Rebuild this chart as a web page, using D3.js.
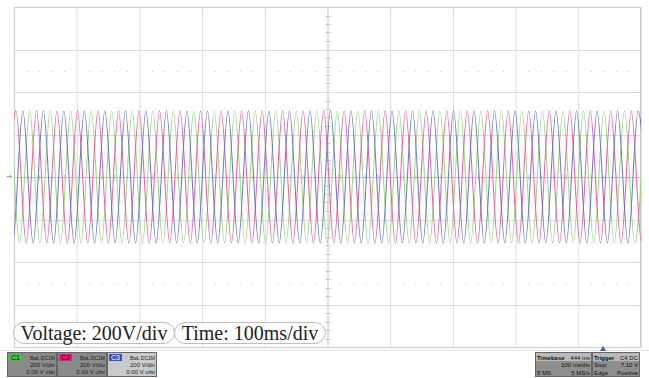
<!DOCTYPE html>
<html><head><meta charset="utf-8">
<script src="https://cdn.jsdelivr.net/npm/d3@7"></script>
<style>html,body{margin:0;padding:0;background:#fff;}svg{display:block;}</style>
</head><body>
<svg id="c" width="649" height="378"></svg>
<script>
// ---- data (time in ms across 10 divisions of 100 ms, volts at 200 V/div) ----
const timeTicks = [0,100,200,300,400,500,600,700,800,900,1000];
const voltTicks = [-800,-600,-400,-200,0,200,400,600,800];
const dotRows = [-500, 500];
const peakVolts = 311, troughVolts = -311;
// pink channel (C2)
const c2Peaks = [3.2,35.9,68.6,101.3,134.0,166.8,199.5,232.2,264.9,297.6,330.3,363.0,395.7,428.4,461.1,493.9,526.6,559.3,592.0,624.7,657.4,690.1,722.8,755.5,788.2,821.0,853.7,886.4,919.1,951.8,984.5,1017.2];
const c2Troughs = [-13.2,19.5,52.2,85.0,117.7,150.4,183.1,215.8,248.5,281.2,313.9,346.7,379.4,412.1,444.8,477.5,510.2,542.9,575.6,608.3,641.0,673.8,706.5,739.2,771.9,804.6,837.3,870.0,902.7,935.4,968.2,1000.9];
// blue channel (C3)
const c3Peaks = [-18.6,14.1,46.8,79.5,112.2,144.9,177.7,210.4,243.1,275.8,308.5,341.2,373.9,406.6,439.3,472.0,504.8,537.5,570.2,602.9,635.6,668.3,701.0,733.7,766.4,799.1,831.9,864.6,897.3,930.0,962.7,995.4];
const c3Troughs = [-2.2,30.5,63.2,95.9,128.6,161.3,194.0,226.7,259.4,292.2,324.9,357.6,390.3,423.0,455.7,488.4,521.1,553.8,586.5,619.3,652.0,684.7,717.4,750.1,782.8,815.5,848.2,880.9,913.6,946.4,979.1,1011.8];
// green channel (C1)
const c1Peaks = [-7.7,25.0,57.7,90.4,123.1,155.8,188.6,221.3,254.0,286.7,319.4,352.1,384.8,417.5,450.2,482.9,515.7,548.4,581.1,613.8,646.5,679.2,711.9,744.6,777.3,810.0,842.8,875.5,908.2,940.9,973.6,1006.3];
const c1Troughs = [-24.1,8.7,41.4,74.1,106.8,139.5,172.2,204.9,237.6,270.4,303.1,335.8,368.5,401.2,433.9,466.6,499.3,532.0,564.7,597.4,630.2,662.9,695.6,728.3,761.0,793.7,826.4,859.1,891.9,924.6,957.3,990.0];
const channels = [
  {name:"C1", peaks:c1Peaks, troughs:c1Troughs, color:"#94d474"},
  {name:"C2", peaks:c2Peaks, troughs:c2Troughs, color:"#ee4d9e"},
  {name:"C3", peaks:c3Peaks, troughs:c3Troughs, color:"#5c6ebd"}
];
const labels = ["Voltage: 200V/div", "Time: 100ms/div"];
const chanBoxes = [
  {name:"C1", badge:"#49c43f", fill:"#8a8a8a", l1:"BwL DC1M", l2:"200 V/div", l3:"0.00 V ofst"},
  {name:"C2", badge:"#f0157f", fill:"#8a8a8a", l1:"BwL DC1M", l2:"200 V/div", l3:"0.00 V ofst"},
  {name:"C3", badge:"#3451c6", fill:"#c9c9c9", l1:"BwL DC1M", l2:"200 V/div", l3:"0.00 V ofst"}
];
const timebase = {head:["Timebase","444 ms"], r1:["","100 ms/div"], r2:["5 MS","5 MS/s"]};
const trigger = {head:["Trigger","C4  DC"], r1:["Stop","7.10 V"], r2:["Edge","Positive"]};

// ---- drawing ----
const svg = d3.select("#c");
const L=14, R=641, T=7, B=347;
const x = d3.scaleLinear().domain([0,1000]).range([L,R]);
const y = d3.scaleLinear().domain([-800,800]).range([B,T]);

svg.append("defs").append("clipPath").attr("id","pc")
  .append("rect").attr("x",L).attr("y",T).attr("width",R-L).attr("height",B-T);

const g = svg.append("g");
// grid
g.selectAll("line.v").data(timeTicks).join("line")
  .attr("x1",d=>x(d)+0.5).attr("x2",d=>x(d)+0.5).attr("y1",T).attr("y2",B)
  .attr("stroke",d=>d===500?"#c4c4c4":"#dcdcdc").attr("stroke-width",1);
g.selectAll("line.h").data(voltTicks).join("line")
  .attr("y1",d=>Math.round(y(d))+0.5).attr("y2",d=>Math.round(y(d))+0.5).attr("x1",L).attr("x2",R)
  .attr("stroke",d=>d===0?"#c4c4c4":"#dcdcdc").attr("stroke-width",1);
// outer border
g.append("rect").attr("x",L+0.5).attr("y",T+0.5).attr("width",R-L-1).attr("height",B-T)
  .attr("fill","none").attr("stroke","#cfcfcf").attr("stroke-width",1.2);
// minor ticks on center axes
const minorT = d3.range(0,1000,20).filter(d=>d%100!==0);
g.selectAll("line.mt").data(minorT).join("line")
  .attr("x1",d=>x(d)+0.5).attr("x2",d=>x(d)+0.5).attr("y1",y(0)-2).attr("y2",y(0)+3)
  .attr("stroke","#c4c4c4");
const minorV = d3.range(-800,800,40).filter(d=>d%200!==0);
g.selectAll("line.mv").data(minorV).join("line")
  .attr("y1",d=>Math.round(y(d))+0.5).attr("y2",d=>Math.round(y(d))+0.5).attr("x1",x(500)-2).attr("x2",x(500)+3)
  .attr("stroke","#c4c4c4");
// dotted rows
dotRows.forEach(v=>{
  const pts = d3.range(0,1000,20).filter(d=>d%100!==0);
  g.selectAll(null).data(pts).join("rect")
    .attr("x",d=>x(d)).attr("y",Math.round(y(v))).attr("width",1).attr("height",1).attr("fill","#c8c8c8");
});

// traces
const line = d3.line().x(d=>x(d[0])).y(d=>y(d[1])).curve(d3.curveMonotoneX);
const tg = svg.append("g").attr("clip-path","url(#pc)");
channels.forEach(ch=>{
  const pts = ch.peaks.map(t=>[t,peakVolts]).concat(ch.troughs.map(t=>[t,troughVolts]))
    .sort((a,b)=>a[0]-b[0]);
  tg.append("path").attr("d",line(pts)).attr("fill","none")
    .attr("stroke",ch.color).attr("stroke-width",1.05).attr("stroke-opacity",0.9);
});

// ground marker
svg.append("text").attr("x",7).attr("y",y(0)+3).attr("font-family","DejaVu Sans").attr("font-size",7)
  .attr("fill","#4b5fb8").attr("transform",`rotate(-90,9,${y(0)})`).text("⏚");

// pill labels
const pillX = [13,174], pillW = [161,151];
labels.forEach((t,i)=>{
  svg.append("rect").attr("x",pillX[i]+0.5).attr("y",322.5).attr("width",pillW[i]).attr("height",21)
    .attr("rx",10.5).attr("fill","#fff").attr("stroke","#bdbdbd");
  svg.append("text").attr("x",pillX[i]+pillW[i]/2+0.5).attr("y",339.5).attr("text-anchor","middle")
    .attr("font-family","Liberation Serif, Times New Roman, serif").attr("font-size",20).attr("fill","#222").text(t);
});

// separator
svg.append("line").attr("x1",0).attr("x2",649).attr("y1",350.5).attr("y2",350.5).attr("stroke","#e2e2e2");

// channel boxes
chanBoxes.forEach((c,i)=>{
  const bx = 7 + i*50;
  const bg = svg.append("g");
  bg.append("rect").attr("x",bx+0.5).attr("y",352.5).attr("width",49).attr("height",24)
    .attr("fill",c.fill).attr("stroke","#666");
  bg.append("rect").attr("x",bx+2).attr("y",354).attr("width",13).attr("height",7).attr("fill",c.badge);
  bg.append("text").attr("x",bx+8.5).attr("y",360).attr("text-anchor","middle").attr("font-family","Arial, Liberation Sans").attr("font-size",7).attr("fill",i===2?"#fff":"#111").text(c.name);
  [[c.l1,359.5,5],[c.l2,367,6],[c.l3,374,6]].forEach(([t,yy,fs])=>{
    bg.append("text").attr("x",bx+48).attr("y",yy).attr("text-anchor","end")
      .attr("font-family","Liberation Sans, Arial").attr("font-size",fs).attr("fill","#1a1a1a").text(t);
  });
});

// right boxes
function infoBox(bx,w,info){
  const bg = svg.append("g");
  bg.append("rect").attr("x",bx+0.5).attr("y",352.5).attr("width",w).attr("height",24).attr("fill","#8e8e8e").attr("stroke","#666");
  bg.append("rect").attr("x",bx+1).attr("y",353).attr("width",w-1).attr("height",8).attr("fill","#b9b9b9");
  const rows=[[info.head,359.5,true],[info.r1,367,false],[info.r2,374.5,false]];
  rows.forEach(([r,yy,b])=>{
    bg.append("text").attr("x",bx+2).attr("y",yy).attr("font-family","Liberation Sans, Arial").attr("font-size",6)
      .attr("font-weight",b?"bold":"normal").attr("fill","#111").text(r[0]);
    bg.append("text").attr("x",bx+w-1).attr("y",yy).attr("text-anchor","end").attr("font-family","Liberation Sans, Arial").attr("font-size",6)
      .attr("fill","#111").text(r[1]);
  });
}
infoBox(535,56,timebase);
infoBox(592,47,trigger);
svg.append("path").attr("d","M600,351 L603,346 L606,351 Z").attr("fill","#3a5bc8");
</script>
</body></html>
